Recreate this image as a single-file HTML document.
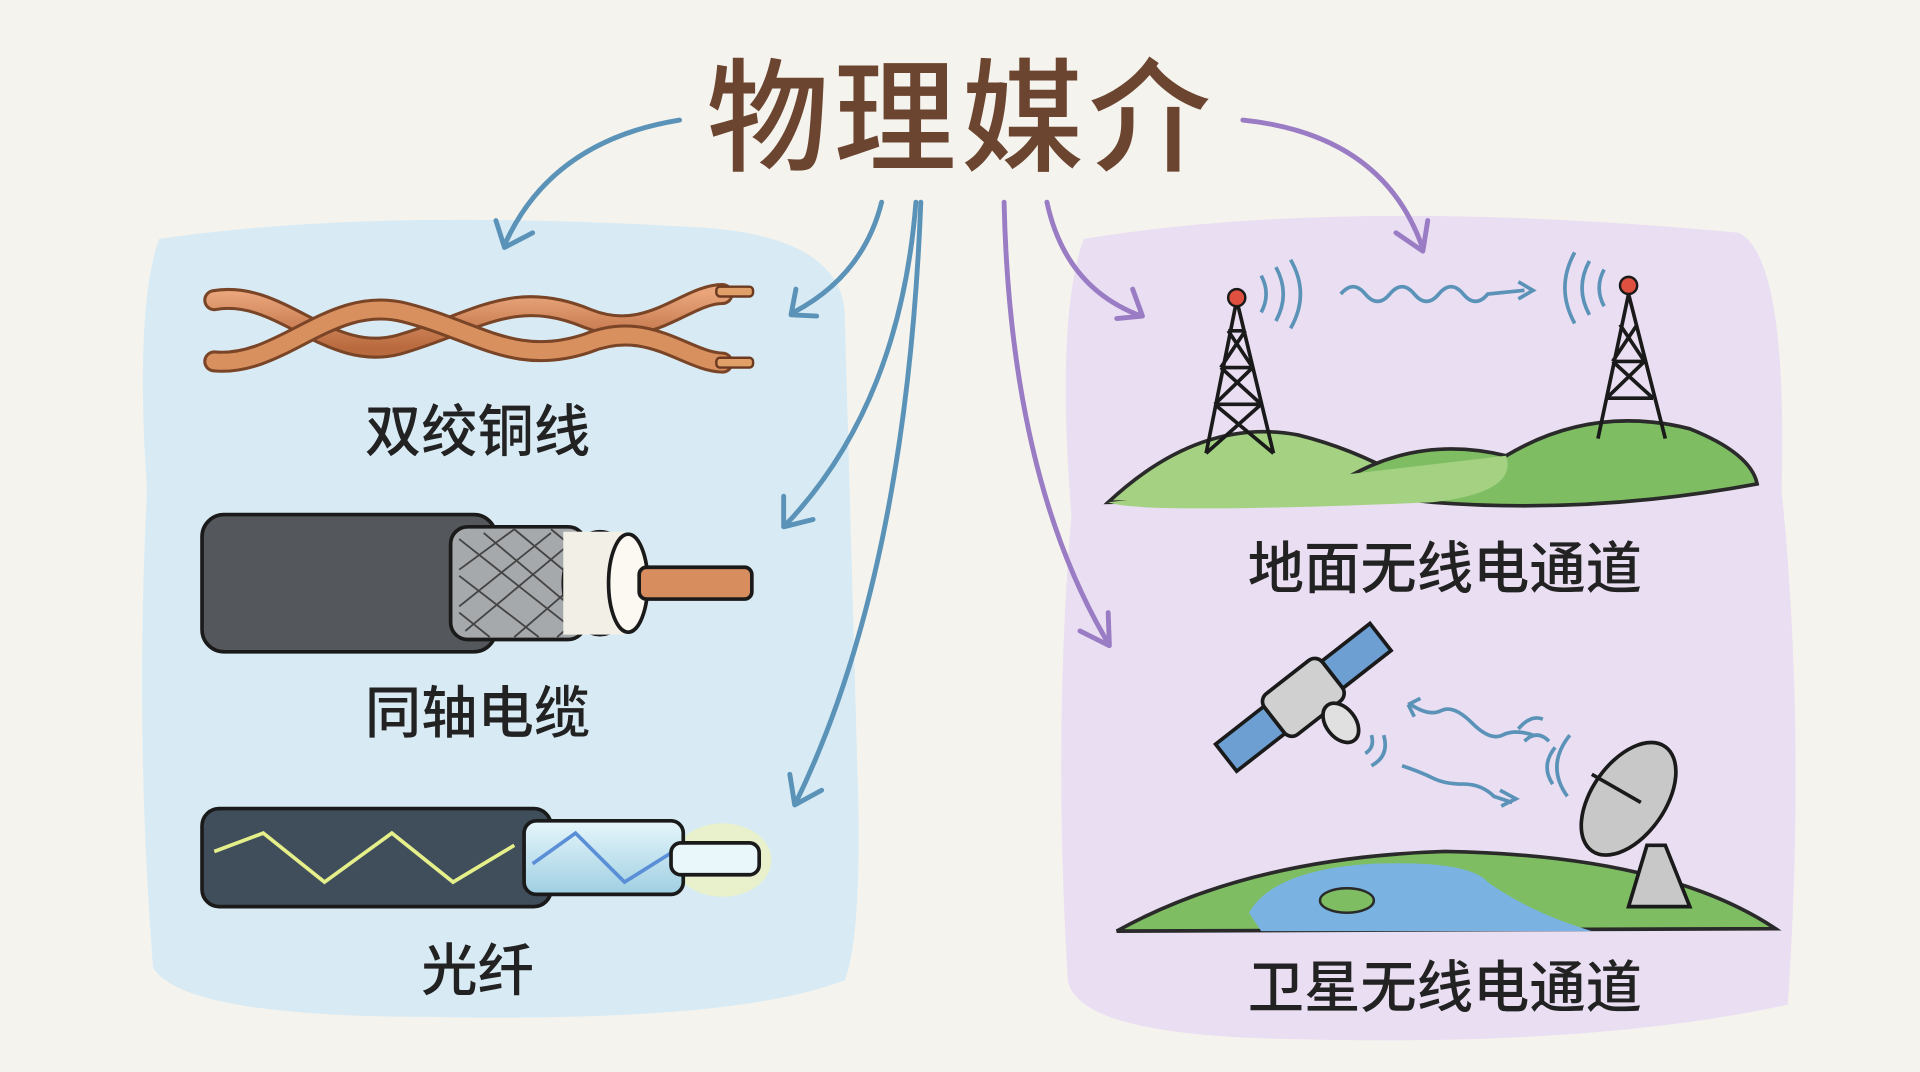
<!DOCTYPE html>
<html><head><meta charset="utf-8"><style>
html,body{margin:0;padding:0;background:#f5f3ee;}
svg{display:block;}
text{font-family:"Liberation Sans","Noto Sans CJK SC",sans-serif;}
</style></head><body>
<svg width="1920" height="1072" viewBox="0 0 1568 875" preserveAspectRatio="none" xmlns="http://www.w3.org/2000/svg">
<defs>
<linearGradient id="cu" x1="0" y1="0" x2="0" y2="1"><stop offset="0" stop-color="#e9a47a"/><stop offset="1" stop-color="#b96a3e"/></linearGradient>
<linearGradient id="glass" x1="0" y1="0" x2="0" y2="1"><stop offset="0" stop-color="#e6f6fb"/><stop offset="1" stop-color="#9fcfe2"/></linearGradient>
</defs>
<rect width="1568" height="875" fill="#f5f3ee"/>
<path d="M130,195 Q300,170 560,185 Q690,190 690,260 L700,620 Q705,760 690,800 Q600,835 350,830 Q150,830 125,790 Q110,600 120,400 Q110,250 130,195 Z" fill="#d8ebf4"/>
<path d="M885,195 Q1100,160 1420,190 Q1460,210 1455,400 Q1475,600 1460,820 Q1300,855 1050,848 Q880,845 872,800 Q860,600 875,420 Q862,260 885,195 Z" fill="#e9def2"/>
<text x="785" y="132" font-size="100" fill="#6b4530" text-anchor="middle" font-weight="500" letter-spacing="4">物理媒介</text>
<g fill="none" stroke="#5b93b8" stroke-width="4" stroke-linecap="round" stroke-linejoin="round">
<path d="M555,98 Q450,115 412,200"/><path d="M405,180 L412,202 L435,190"/>
<path d="M720,165 Q705,225 648,255"/><path d="M650,236 L646,257 L667,258"/>
<path d="M748,165 Q735,330 642,428"/><path d="M640,405 L640,430 L664,424"/>
<path d="M752,165 Q740,470 650,655"/><path d="M645,632 L649,657 L671,645"/>
</g>
<g fill="none" stroke="#9a7cc4" stroke-width="4" stroke-linecap="round" stroke-linejoin="round">
<path d="M1015,98 Q1130,110 1162,203"/><path d="M1140,190 L1162,205 L1166,180"/>
<path d="M855,165 Q870,235 932,258"/><path d="M912,260 L933,258 L925,236"/>
<path d="M820,165 Q825,390 905,525"/><path d="M882,515 L906,527 L905,500"/>
</g>
<g stroke="#6b3a20" stroke-width="2">
<path d="M175,245 C230,235 270,300 330,280 C390,262 420,235 480,260 C530,280 560,240 590,240" fill="none" stroke="#7a4426" stroke-width="18" stroke-linecap="round"/>
<path d="M175,245 C230,235 270,300 330,280 C390,262 420,235 480,260 C530,280 560,240 590,240" fill="none" stroke="url(#cu)" stroke-width="13" stroke-linecap="round"/>
<path d="M175,295 C230,300 270,240 330,255 C390,270 420,300 480,280 C530,260 560,295 590,296" fill="none" stroke="#7a4426" stroke-width="18" stroke-linecap="round"/>
<path d="M175,295 C230,300 270,240 330,255 C390,270 420,300 480,280 C530,260 560,295 590,296" fill="none" stroke="#d8905f" stroke-width="13" stroke-linecap="round"/>
<rect x="585" y="234" width="30" height="8" rx="3" fill="#e1a067"/>
<rect x="585" y="292" width="30" height="8" rx="3" fill="#e1a067"/>
</g>
<text x="390" y="368" font-size="46" fill="#222" text-anchor="middle" font-weight="500">双绞铜线</text>
<g stroke="#1a1a1a" stroke-width="3">
<rect x="165" y="420" width="240" height="112" rx="18" fill="#54575b"/>
<rect x="368" y="430" width="110" height="92" rx="14" fill="#a6a9ac"/>
<path d="M375,440 L470,515 M395,435 L478,505 M375,470 L440,520 M375,500 L400,520 M420,432 L478,480 M450,432 L478,455 M470,440 L380,515 M450,435 L375,495 M420,432 L375,465 M478,470 L420,520 M478,500 L455,520" stroke="#444" stroke-width="1.5"/>
<ellipse cx="490" cy="476" rx="30" ry="42" fill="#f2efe6"/>
<rect x="460" y="434" width="50" height="84" fill="#f2efe6" stroke="none"/>
<ellipse cx="513" cy="476" rx="16" ry="40" fill="#fbf9f2"/>
<rect x="522" y="463" width="92" height="26" rx="6" fill="#d88d5e"/>
</g>
<text x="390" y="598" font-size="46" fill="#222" text-anchor="middle" font-weight="500">同轴电缆</text>
<ellipse cx="590" cy="702" rx="40" ry="30" fill="#f4f4b0" opacity="0.6"/>
<g stroke="#1a1a1a" stroke-width="3">
<rect x="165" y="660" width="285" height="80" rx="14" fill="#3f4e5a"/>
<path d="M175,695 L215,680 L265,720 L320,680 L370,720 L420,690" fill="none" stroke="#e6f08a" stroke-width="3"/>
<rect x="428" y="670" width="130" height="60" rx="10" fill="url(#glass)"/>
<path d="M435,705 L470,680 L510,720 L550,695" fill="none" stroke="#5a8fd8" stroke-width="3"/>
<rect x="548" y="688" width="72" height="26" rx="8" fill="#e9f7fb"/>
</g>
<text x="390" y="808" font-size="46" fill="#222" text-anchor="middle" font-weight="500">光纤</text>
<path d="M905,410 Q980,340 1060,355 Q1120,370 1170,405 Z" fill="#a4d282" stroke="#2a2a2a" stroke-width="3"/>
<path d="M1100,390 Q1160,355 1230,372 Q1300,330 1380,350 Q1430,370 1435,395 Q1300,420 1170,410 Q1120,405 1100,390 Z" fill="#7fbd63" stroke="#2a2a2a" stroke-width="3"/>
<path d="M905,410 Q930,420 1170,410 Q1240,402 1230,372" fill="#a4d282" stroke="none"/>
<g stroke="#1a1a1a" stroke-width="3" fill="none">
<path d="M1010,245 L985,370 M1010,245 L1040,370 M997,300 L1023,300 M992,330 L1030,330 M1003,270 L1017,270 M997,300 L1030,330 M1023,300 L992,330 M1003,270 L1023,300 M1017,270 L997,300 M992,330 L1040,370 M1030,330 L985,370"/>
<path d="M1330,240 L1305,358 M1330,240 L1360,358 M1317,295 L1343,295 M1312,325 L1350,325 M1317,295 L1350,325 M1343,295 L1312,325 M1323,265 L1343,295 M1337,265 L1317,295"/>
<path d="M1030,225 Q1038,240 1030,255 M1042,218 Q1054,240 1042,262 M1054,212 Q1070,240 1054,268" stroke="#5b93b8"/>
<path d="M1310,220 Q1302,235 1310,250 M1298,213 Q1286,235 1298,257 M1286,206 Q1270,235 1286,264" stroke="#5b93b8"/>
<path d="M1095,240 q10,-12 20,0 t20,0 t20,0 t20,0 t20,0 t20,0 l30,-3 M1240,230 l12,7 l-12,7" stroke="#5b93b8"/>
</g>
<circle cx="1010" cy="243" r="7" fill="#e05040" stroke="#1a1a1a" stroke-width="2"/>
<circle cx="1330" cy="233" r="7" fill="#e05040" stroke="#1a1a1a" stroke-width="2"/>
<text x="1180" y="480" font-size="46" fill="#222" text-anchor="middle" font-weight="500">地面无线电通道</text>
<path d="M912,760 Q1020,700 1180,695 Q1360,698 1450,758 Z" fill="#7fbd63" stroke="#2a2a2a" stroke-width="3"/>
<path d="M1020,745 Q1040,710 1120,705 Q1200,702 1215,720 Q1250,745 1300,760 L1030,760 Z" fill="#7ab3e2"/>
<ellipse cx="1100" cy="735" rx="22" ry="10" fill="#7fbd63" stroke="#2a2a2a" stroke-width="2"/>
<g transform="rotate(-38 1065 570)" stroke="#1a1a1a" stroke-width="3">
<rect x="985" y="555" width="50" height="28" fill="#6e9fd2"/>
<rect x="1095" y="555" width="50" height="28" fill="#6e9fd2"/>
<rect x="1035" y="548" width="60" height="42" rx="8" fill="#d0d0d0"/>
</g>
<ellipse cx="1095" cy="590" rx="12" ry="18" fill="#e0e0e0" stroke="#1a1a1a" stroke-width="3" transform="rotate(-38 1095 590)"/>
<g stroke="#5b93b8" stroke-width="3" fill="none">
<path d="M1115,615 q8,-5 5,-15 M1120,625 q15,-8 10,-25"/>
<path d="M1245,605 q10,-10 20,0 M1240,595 q10,-12 20,-8"/>
<path d="M1150,575 l10,-5 M1150,575 l5,10 M1152,575 q15,10 25,5 t25,10 t25,10 t25,0"/>
<path d="M1145,625 q15,5 25,10 t25,5 t25,10 l15,5 M1225,645 l13,7 l-12,6"/>
<path d="M1270,610 Q1258,625 1268,640 M1282,600 Q1262,625 1280,650"/>
</g>
<path d="M1330,740 L1345,690 L1360,690 L1380,740 Z" fill="#c8c8c8" stroke="#1a1a1a" stroke-width="3"/>
<ellipse cx="1330" cy="652" rx="30" ry="52" fill="#c8c8c8" stroke="#1a1a1a" stroke-width="3" transform="rotate(35 1330 652)"/>
<path d="M1300,632 L1340,655" stroke="#1a1a1a" stroke-width="3"/>
<text x="1180" y="822" font-size="46" fill="#222" text-anchor="middle" font-weight="500">卫星无线电通道</text>
</svg>
</body></html>
